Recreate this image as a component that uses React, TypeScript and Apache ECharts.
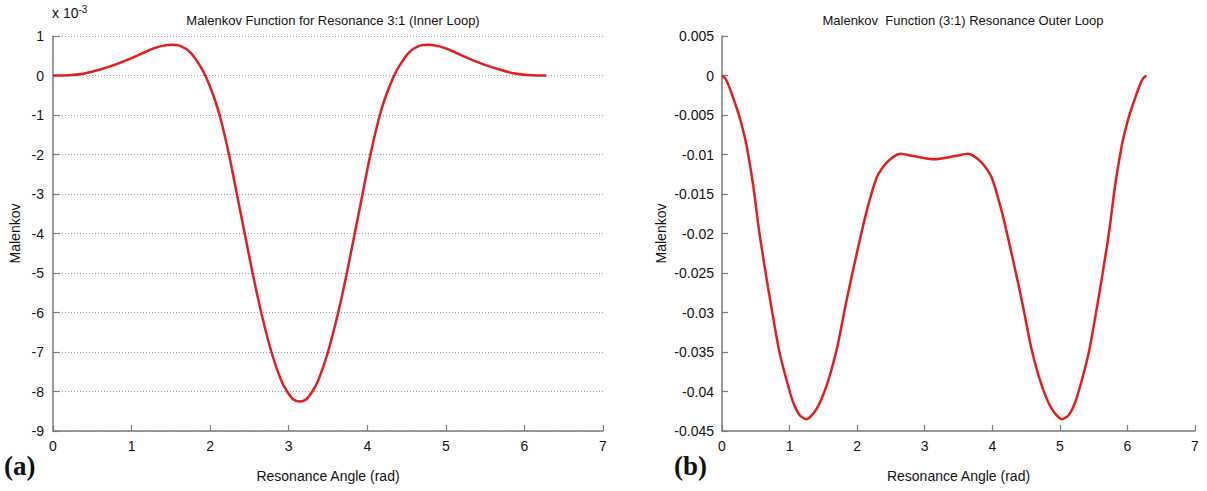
import React, { useEffect, useRef } from "react";
import * as echarts from "echarts";

// Left panel: Malenkov function (values in units of 1e-3), inner loop
const innerX = [0, 0.2, 0.4, 0.6, 0.8, 1.0, 1.2, 1.35, 1.5, 1.62, 1.75, 1.87, 1.95, 2.04, 2.12, 2.24, 2.34, 2.44, 2.54, 2.65, 2.78, 2.9, 2.98, 3.06, 3.14, 3.22, 3.3, 3.38, 3.5, 3.63, 3.74, 3.84, 3.94, 4.04, 4.16, 4.24, 4.33, 4.41, 4.53, 4.66, 4.78, 4.93, 5.08, 5.28, 5.48, 5.68, 5.88, 6.08, 6.28];
const innerY = [0, 0.005, 0.05, 0.15, 0.28, 0.44, 0.62, 0.73, 0.78, 0.75, 0.58, 0.25, -0.05, -0.5, -1, -2, -3, -4, -5, -6, -7, -7.7, -8, -8.2, -8.25, -8.2, -8, -7.7, -7, -6, -5, -4, -3, -2, -1, -0.5, -0.05, 0.25, 0.58, 0.75, 0.78, 0.73, 0.62, 0.44, 0.28, 0.15, 0.05, 0.005, 0];

// Right panel: Malenkov function, outer loop
const outerX = [0, 0.05, 0.1, 0.16, 0.22, 0.29, 0.36, 0.46, 0.55, 0.65, 0.75, 0.85, 0.95, 1.05, 1.15, 1.25, 1.4, 1.55, 1.7, 1.84, 1.99, 2.14, 2.29, 2.44, 2.64, 2.83, 3.14, 3.45, 3.64, 3.84, 3.99, 4.14, 4.29, 4.44, 4.58, 4.73, 4.88, 5.03, 5.13, 5.23, 5.33, 5.43, 5.53, 5.63, 5.73, 5.82, 5.92, 5.99, 6.06, 6.12, 6.18, 6.23, 6.28];
const outerY = [0, -0.0004, -0.0013, -0.0027, -0.0042, -0.0062, -0.0087, -0.0138, -0.0197, -0.0252, -0.0303, -0.035, -0.0384, -0.0413, -0.043, -0.0435, -0.0422, -0.0392, -0.0346, -0.0286, -0.0227, -0.0172, -0.0129, -0.011, -0.0099, -0.0102, -0.0106, -0.0102, -0.0099, -0.011, -0.0129, -0.0172, -0.0227, -0.0286, -0.0346, -0.0392, -0.0422, -0.0435, -0.043, -0.0413, -0.0384, -0.035, -0.0303, -0.0252, -0.0197, -0.0138, -0.0087, -0.0062, -0.0042, -0.0027, -0.0013, -0.0004, 0];

const xTicks = [0, 1, 2, 3, 4, 5, 6, 7];

const titles = ["Malenkov Function for Resonance 3:1 (Inner Loop)", "Malenkov  Function (3:1) Resonance Outer Loop"];
const xName = "Resonance Angle (rad)";
const yName = "Malenkov";
const panelLabels = ["(a)", "(b)"];

const FONT = "'Liberation Sans Narrow', 'Liberation Sans', Arial, sans-serif";
const RED = "#e11f1f";
const AXIS = "#7a7a7a";

export default function App() {
  const ref = useRef<HTMLDivElement>(null);
  useEffect(() => {
    if (!ref.current) return;
    const chart = echarts.init(ref.current, null, { renderer: "svg" });
    const axisLabel = { color: "#111", fontFamily: FONT, fontSize: 14 };
    const xAxisCommon = (gridIndex: number) => ({
      type: "value",
      gridIndex,
      min: xTicks[0],
      max: xTicks[xTicks.length - 1],
      interval: 1,
      name: xName,
      nameLocation: "middle",
      nameGap: 38,
      nameTextStyle: { color: "#111", fontFamily: FONT, fontSize: 14 },
      axisLine: { show: true, onZero: false, lineStyle: { color: AXIS, width: 1.5 } },
      axisTick: { show: true, inside: true, length: 6, lineStyle: { color: AXIS, width: 1.2 } },
      axisLabel: { ...axisLabel, margin: 8 },
      splitLine: { show: false },
    });
    const option: any = {
      animation: false,
      backgroundColor: "#fff",
      title: [
        { text: titles[0], left: 328, top: 9, textAlign: "center", textStyle: { fontFamily: FONT, fontSize: 13, fontWeight: "normal", color: "#111" } },
        { text: titles[1], left: 958, top: 9, textAlign: "center", textStyle: { fontFamily: FONT, fontSize: 13, fontWeight: "normal", color: "#111" } },
      ],
      grid: [
        { left: 53, top: 36, width: 550, height: 395 },
        { left: 722, top: 36, width: 473, height: 395 },
      ],
      xAxis: [xAxisCommon(0), xAxisCommon(1)],
      yAxis: [
        {
          type: "value",
          gridIndex: 0,
          min: -9,
          max: 1,
          interval: 1,
          name: yName,
          nameLocation: "middle",
          nameGap: 31,
          nameTextStyle: { color: "#111", fontFamily: FONT, fontSize: 14 },
          axisLine: { show: true, onZero: false, lineStyle: { color: AXIS, width: 1.5 } },
          axisTick: { show: true, inside: true, length: 6, lineStyle: { color: AXIS, width: 1.2 } },
          axisLabel: { ...axisLabel, margin: 9 },
          splitLine: { show: true, lineStyle: { color: "#9a9a9a", type: [1, 2], width: 1 } },
        },
        {
          type: "value",
          gridIndex: 1,
          min: -0.045,
          max: 0.005,
          interval: 0.005,
          name: yName,
          nameLocation: "middle",
          nameGap: 54,
          nameTextStyle: { color: "#111", fontFamily: FONT, fontSize: 14 },
          axisLine: { show: true, onZero: false, lineStyle: { color: AXIS, width: 1.5 } },
          axisTick: { show: true, inside: true, length: 6, lineStyle: { color: AXIS, width: 1.2 } },
          axisLabel: { ...axisLabel, margin: 8, formatter: (v: number) => (Math.abs(v) < 1e-12 ? "0" : String(+v.toFixed(3))) },
          splitLine: { show: false },
        },
      ],
      series: [
        {
          type: "line",
          xAxisIndex: 0,
          yAxisIndex: 0,
          data: innerX.map((x, i) => [x, innerY[i]]),
          smooth: 0.25,
          showSymbol: false,
          lineStyle: { color: RED, width: 2.5 },
          itemStyle: { color: RED },
        },
        {
          type: "line",
          xAxisIndex: 1,
          yAxisIndex: 1,
          data: outerX.map((x, i) => [x, outerY[i]]),
          smooth: 0.25,
          showSymbol: false,
          lineStyle: { color: RED, width: 2.5 },
          itemStyle: { color: RED },
        },
      ],
      graphic: [
        {
          type: "text",
          left: 52,
          top: 4,
          style: {
            text: "x 10{sup|-3}",
            fontFamily: FONT,
            fontSize: 14,
            fill: "#111",
            rich: { sup: { fontSize: 10, verticalAlign: "top", padding: [0, 0, 8, 0], fontFamily: FONT, fill: "#111" } },
          } as any,
        },
        {
          type: "text",
          left: 4,
          top: 452,
          style: { text: panelLabels[0], fontFamily: "'Liberation Serif', 'Times New Roman', serif", fontSize: 27, fontWeight: "bold", fill: "#111" },
        },
        {
          type: "text",
          left: 674,
          top: 452,
          style: { text: panelLabels[1], fontFamily: "'Liberation Serif', 'Times New Roman', serif", fontSize: 27, fontWeight: "bold", fill: "#111" },
        },
      ],
    };
    chart.setOption(option);
    return () => chart.dispose();
  }, []);
  return <div ref={ref} style={{ position: "absolute", left: 0, top: 0, width: 1207, height: 491 }} />;
}
